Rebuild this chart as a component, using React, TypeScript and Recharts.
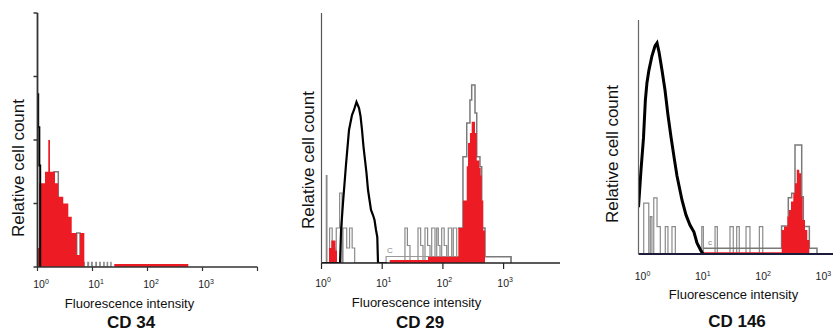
import React from 'react';
import { ComposedChart, Area, Line, XAxis, YAxis } from 'recharts';

const FONT = '"Liberation Sans", Arial, Helvetica, sans-serif';
const RED = '#ED1C24';
const GRAY = '#8a8a8a';

// ---------- shared axis data ----------
const decadeTicks = [1, 10, 100, 1000, 10000];
const exponentLabels = ['0', '1', '2', '3'];
const countTicks = [0, 25, 50, 75, 100];

// ---------- CD 34 ----------
const cd34RedX = [1.0, 1.08, 1.37, 1.57, 1.69, 2.08, 2.39, 2.94, 3.63, 4.19, 5.16, 5.93, 7.1, 24.9, 552];
const cd34RedY = [7.5, 33, 37.5, 50, 37.5, 33, 27.7, 25, 19.8, 13.4, 4.7, 13.4, 0, 1.2, 0];
const cd34EnvX = [1.94, 2.39, 5.16, 5.93];
const cd34EnvY = [37.5, 0, 13.4, 0];
const cd34BlackX = [1.0, 1.03, 1.08, 1.12];
const cd34BlackY = [68, 55, 40, 0];
const cd34NoiseX = [6.6, 6.8, 7.1, 8.2, 8.5, 9.6, 9.9, 11.5, 11.8, 13.5, 13.8, 16, 16.3, 18.5, 18.8, 21.5, 21.8];
const cd34NoiseY = [0, 1.8, 0, 1.8, 0, 1.8, 0, 1.8, 0, 1.8, 0, 1.8, 0, 1.8, 0, 1.8, 0];

// ---------- CD 29 ----------
const cd29BlackX = [1.0, 2.02, 2.1, 2.26, 2.53, 2.84, 3.18, 3.43, 3.77, 4.15, 4.39, 4.65, 4.92, 5.21, 5.51, 5.84, 6.18, 6.54, 7.05, 7.47, 7.91, 8.3, 8.53, 12];
const cd29BlackY = [0, 0, 13.2, 24, 39.2, 53.2, 59.2, 61.2, 64.4, 62, 58.8, 53.2, 46.5, 41.2, 36, 29.2, 25.2, 21.2, 19.2, 17.2, 13.2, 10.4, 0, 0];
const cd29RedX = [1.33, 1.45, 1.7, 1.8, 13.3, 56.8, 179.5, 214, 247, 259, 279, 298, 338, 361, 398, 420, 436, 463, 494];
const cd29RedY = [6, 9, 5, 0, 1.2, 2.5, 14, 25, 38.7, 48, 52, 56.5, 52, 41, 38, 35, 25, 13, 0];
const cd29EnvX = [178, 214, 247, 279, 298, 338, 361, 408, 436, 494, 1324];
const cd29EnvY = [14, 42.5, 56, 65.2, 71.2, 60, 42.5, 38.5, 14, 2.5, 0];
const cd29GateX = [11.55, 11.6, 1330];
const cd29GateY = [0, 2.6, 0];
const cd29NoiseX = [1.19, 1.2, 1.23, 1.36, 1.5, 1.65, 1.75, 1.99, 2.18, 2.26, 2.6, 2.9, 3.2, 3.52,
  23.7, 26, 28.7, 38.9, 43, 47, 50.7, 56, 61.3, 65.4, 74.1, 79.1, 84, 89.6, 95.5, 105, 115.5, 122.7, 139.7, 148.4, 168.8];
const cd29NoiseY = [0, 35, 0, 14, 6, 0, 14, 28, 0, 14, 6, 14, 6, 0,
  14, 7, 0, 14, 7, 0, 14, 7, 0, 14, 0, 14, 7, 0, 14, 7, 0, 14, 0, 14, 0];

// ---------- CD 146 ----------
const cd146BlackX = [1.0, 1.1, 1.21, 1.3, 1.38, 1.49, 1.67, 1.88, 2.03, 2.19, 2.45, 2.75, 3.08, 3.46, 3.88, 4.35, 5.26, 6.13, 7.14, 8.31, 9.33, 10.7, 11.7];
const cd146BlackY = [20, 35.9, 49.6, 65.8, 73.1, 78.6, 84.6, 88.9, 90.2, 86.3, 78.6, 70.1, 59.4, 50, 41.5, 33.3, 23.1, 16.7, 12.4, 9.4, 4.7, 1.7, 0];
const cd146RedX = [11.8, 237, 259, 294, 313, 338, 369, 394, 421, 464, 495, 528, 577, 630, 680];
const cd146RedY = [0.8, 10.3, 11.7, 16, 18.8, 22.4, 26, 30.2, 36, 34.5, 24.5, 14.5, 10.3, 6, 0];
const cd146EnvX = [11.9, 236, 305, 347, 394, 509, 541, 615, 681, 912];
const cd146EnvY = [2.5, 12, 24, 26, 46.6, 24.5, 11.7, 11.7, 2.5, 0];
const cd146NoiseX = [1.21, 1.22, 1.48, 1.57, 1.67, 1.79, 2.03, 2.3, 2.78, 3.08, 3.59, 4.08,
  11.2, 11.9, 18.6, 20.3, 32.9, 37.3, 42.5, 46.9, 60.7, 70.6, 101, 115];
const cd146NoiseY = [0, 21.7, 0, 16, 0, 24, 11.7, 0, 11.7, 0, 11.7, 0,
  11.7, 0, 11.7, 0, 11.7, 0, 11.7, 0, 11.7, 0, 11.7, 0];

type Row = { x: number; [k: string]: number | undefined };

function buildRows(series: Record<string, [number[], number[]]>): Row[] {
  const map = new Map<number, Row>();
  Object.entries(series).forEach(([key, [xs, ys]]) => {
    xs.forEach((x, i) => {
      let r = map.get(x);
      if (!r) {
        r = { x };
        map.set(x, r);
      }
      r[key] = ys[i];
    });
  });
  return Array.from(map.values()).sort((a, b) => a.x - b.x);
}

const cd34Rows = buildRows({
  noise: [cd34NoiseX, cd34NoiseY],
  env: [cd34EnvX, cd34EnvY],
  red: [cd34RedX, cd34RedY],
  black: [cd34BlackX, cd34BlackY],
});
const cd29Rows = buildRows({
  noise: [cd29NoiseX, cd29NoiseY],
  gate: [cd29GateX, cd29GateY],
  env: [cd29EnvX, cd29EnvY],
  red: [cd29RedX, cd29RedY],
  black: [cd29BlackX, cd29BlackY],
});
const cd146Rows = buildRows({
  noise: [cd146NoiseX, cd146NoiseY],
  env: [cd146EnvX, cd146EnvY],
  red: [cd146RedX, cd146RedY],
  black: [cd146BlackX, cd146BlackY],
});

function renderLogTick(p: any, offX: number, offY: number) {
  const { x, y, payload } = p;
  const exp = Math.round(Math.log10(payload.value));
  const label = exponentLabels[exp];
  if (label === undefined) return <g />;
  return (
    <text x={x + offX} y={y + offY} textAnchor="middle" fontFamily={FONT} fontSize={10.5} fill="#222">
      10
      <tspan fontSize={7} dy={-4.5}>{label}</tspan>
    </text>
  );
}

type PanelCfg = {
  left: number;
  width: number;
  top: number;
  yAxisWidth: number;
  marginRight: number;
  marginBottom: number;
  xMax: number;
  xTicks: number[];
  tickSize: number;
  tickOffX: number;
  tickOffY: number;
  xAxisColor: string;
  xAxisWidth: number;
  yAxisColor: string;
  yAxisWidthPx: number;
  yTicks: boolean;
  blackWidth: number;
  blackType: 'linear' | 'stepAfter';
  rows: Row[];
  hasGate?: boolean;
};

function Panel({ c }: { c: PanelCfg }) {
  return (
    <div style={{ position: 'absolute', left: c.left, top: 0, width: c.width, height: 300 }}>
      <ComposedChart
        width={c.width}
        height={300}
        data={c.rows}
        margin={{ top: c.top, right: c.marginRight, bottom: c.marginBottom, left: 0 }}
      >
        <XAxis
          dataKey="x"
          type="number"
          scale="log"
          domain={[1, c.xMax]}
          allowDataOverflow
          ticks={c.xTicks}
          interval={0}
          height={30}
          tickSize={c.tickSize}
          tickMargin={0}
          tick={(p: any) => renderLogTick(p, c.tickOffX, c.tickOffY)}
          axisLine={{ stroke: c.xAxisColor, strokeWidth: c.xAxisWidth }}
          tickLine={c.tickSize > 0 ? { stroke: c.xAxisColor, strokeWidth: 1.2 } : false}
        />
        <YAxis
          type="number"
          domain={[0, 100]}
          allowDataOverflow
          ticks={countTicks}
          width={c.yAxisWidth}
          tickSize={c.yTicks ? 4 : 0}
          tick={() => <g />}
          axisLine={{ stroke: c.yAxisColor, strokeWidth: c.yAxisWidthPx }}
          tickLine={c.yTicks ? { stroke: c.yAxisColor, strokeWidth: 1.5 } : false}
        />
        <Area
          dataKey="noise"
          type="stepAfter"
          stroke={GRAY}
          strokeWidth={1.2}
          fill="none"
          connectNulls
          dot={false}
          activeDot={false}
          isAnimationActive={false}
        />
        {c.hasGate ? (
          <Area
            dataKey="gate"
            type="stepAfter"
            stroke="#999"
            strokeWidth={1.2}
            fill="none"
            connectNulls
            dot={false}
            activeDot={false}
            isAnimationActive={false}
          />
        ) : null}
        <Area
          dataKey="env"
          type="stepAfter"
          stroke="#7a7a7a"
          strokeWidth={1.5}
          fill="none"
          connectNulls
          dot={false}
          activeDot={false}
          isAnimationActive={false}
        />
        <Area
          dataKey="red"
          type="stepAfter"
          stroke="none"
          fill={RED}
          fillOpacity={1}
          connectNulls
          dot={false}
          activeDot={false}
          isAnimationActive={false}
        />
        <Line
          dataKey="black"
          type={c.blackType}
          stroke="#000"
          strokeWidth={c.blackWidth}
          connectNulls
          dot={false}
          activeDot={false}
          isAnimationActive={false}
        />
      </ComposedChart>
    </div>
  );
}

const panels: PanelCfg[] = [
  {
    left: 0, width: 270, top: 13, yAxisWidth: 37.5, marginRight: 12.5, marginBottom: 3,
    xMax: 10000, xTicks: decadeTicks, tickSize: 4, tickOffX: 3.5, tickOffY: 17,
    xAxisColor: '#333', xAxisWidth: 1.5, yAxisColor: '#333', yAxisWidthPx: 1.8, yTicks: true,
    blackWidth: 2, blackType: 'stepAfter', rows: cd34Rows,
  },
  {
    left: 290, width: 280, top: 13, yAxisWidth: 31.5, marginRight: 10, marginBottom: 7,
    xMax: 8497, xTicks: [1, 10, 100, 1000], tickSize: 6, tickOffX: 1.5, tickOffY: 17.7,
    xAxisColor: '#222', xAxisWidth: 1.5, yAxisColor: '#555', yAxisWidthPx: 1.2, yTicks: false,
    blackWidth: 2.2, blackType: 'linear', rows: cd29Rows, hasGate: true,
  },
  {
    left: 600, width: 233, top: 20, yAxisWidth: 38.5, marginRight: 0, marginBottom: 16,
    xMax: 1681, xTicks: [1, 10, 100, 1000], tickSize: 0, tickOffX: 4, tickOffY: 26,
    xAxisColor: '#1b1b3a', xAxisWidth: 2, yAxisColor: '#666', yAxisWidthPx: 1.2, yTicks: false,
    blackWidth: 3, blackType: 'linear', rows: cd146Rows,
  },
];

const yTitles = [
  { text: 'Relative cell count', x: 18.3, y: 167.5 },
  { text: 'Relative cell count', x: 307.5, y: 160 },
  { text: 'Relative cell count', x: 611.7, y: 154 },
];
const xTitles = [
  { text: 'Fluorescence intensity', x: 129.5, y: 302.5 },
  { text: 'Fluorescence intensity', x: 416.5, y: 301.5 },
  { text: 'Fluorescence intensity', x: 733.5, y: 293.5 },
];
const panelNames = [
  { text: 'CD 34', x: 131, y: 322.5 },
  { text: 'CD 29', x: 420, y: 322.5 },
  { text: 'CD 146', x: 737, y: 322 },
];
const gateLabels = [
  { text: 'C', x: 390, y: 250.5 },
  { text: 'c', x: 710, y: 243 },
];

export default function App() {
  return (
    <div
      style={{
        position: 'absolute',
        left: 0,
        top: 0,
        width: 833,
        height: 331,
        overflow: 'hidden',
        background: '#fff',
        fontFamily: FONT,
      }}
    >
      {panels.map((c, i) => (
        <Panel key={i} c={c} />
      ))}
      {yTitles.map((t, i) => (
        <div
          key={'y' + i}
          style={{
            position: 'absolute',
            left: t.x,
            top: t.y,
            transform: 'translate(-50%, -50%) rotate(-90deg)',
            whiteSpace: 'nowrap',
            fontSize: 17,
            lineHeight: '17px',
            color: '#111',
          }}
        >
          {t.text}
        </div>
      ))}
      {xTitles.map((t, i) => (
        <div
          key={'x' + i}
          style={{
            position: 'absolute',
            left: t.x,
            top: t.y,
            transform: 'translate(-50%, -50%)',
            whiteSpace: 'nowrap',
            fontSize: 13,
            lineHeight: '13px',
            color: '#111',
          }}
        >
          {t.text}
        </div>
      ))}
      {panelNames.map((t, i) => (
        <div
          key={'n' + i}
          style={{
            position: 'absolute',
            left: t.x,
            top: t.y,
            transform: 'translate(-50%, -50%)',
            whiteSpace: 'nowrap',
            fontSize: 17,
            lineHeight: '14px',
            fontWeight: 'bold',
            color: '#111',
          }}
        >
          {t.text}
        </div>
      ))}
      {gateLabels.map((t, i) => (
        <div
          key={'g' + i}
          style={{
            position: 'absolute',
            left: t.x,
            top: t.y,
            transform: 'translate(-50%, -50%)',
            whiteSpace: 'nowrap',
            fontSize: 8,
            lineHeight: '8px',
            color: '#888',
          }}
        >
          {t.text}
        </div>
      ))}
    </div>
  );
}
